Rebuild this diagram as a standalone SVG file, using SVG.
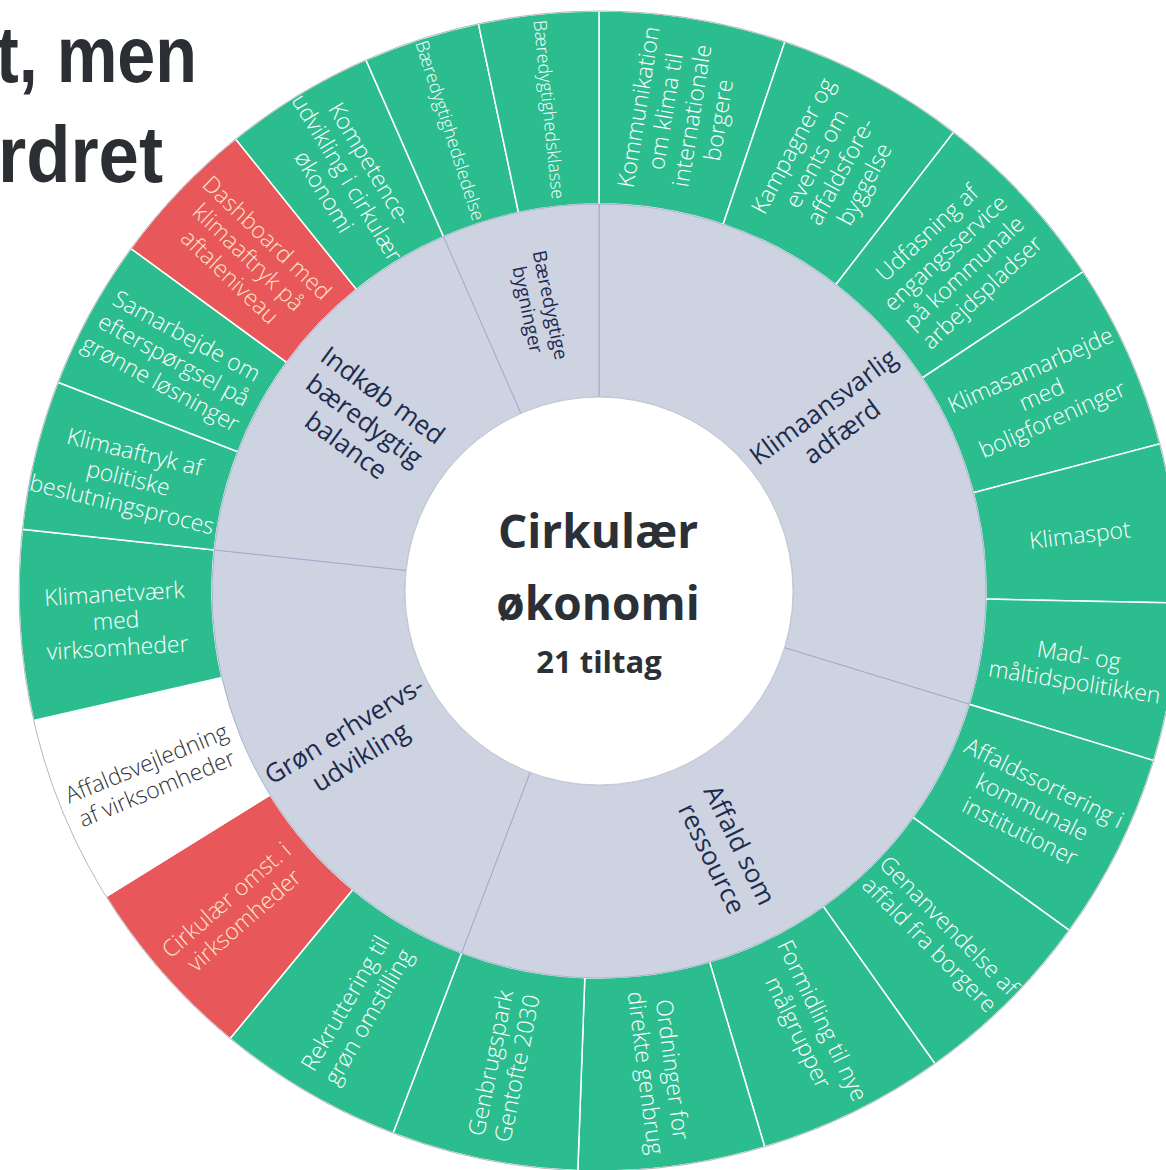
<svg xmlns="http://www.w3.org/2000/svg" width="1166" height="1170" viewBox="0 0 1166 1170">
<style>
.g{fill:#2cbd8f}
.r{fill:#e8575a}
.w{fill:#ffffff}
.seg{stroke:#ffffff;stroke-width:1.5}
.mid{fill:#ced3e2;stroke:#98a4c6;stroke-width:0.8}
.lbl{font-family:"Open Sans","Liberation Sans",sans-serif;font-weight:300;font-size:23px;fill:#ffffff;text-anchor:middle;dominant-baseline:central}
.lr{fill:#fde4c6}
.lw{fill:#333333}
.sm{font-size:18px}
.ml{font-family:"Open Sans","Liberation Sans",sans-serif;font-weight:400;font-size:26px;fill:#1d2c4e;text-anchor:middle;dominant-baseline:central}
.ctr{font-family:"Open Sans","Liberation Sans",sans-serif;font-weight:700;fill:#2b2f36;text-anchor:middle}
.title{font-family:"Liberation Sans Narrow","Liberation Sans",sans-serif;font-weight:700;font-size:80px;fill:#2b2e33}
</style>
<rect width="1166" height="1170" fill="#ffffff"/>
<g id="title">
<text class="title" x="-4" y="82" textLength="201" lengthAdjust="spacingAndGlyphs">t, men</text>
<text class="title" x="-2" y="182" textLength="165" lengthAdjust="spacingAndGlyphs">rdret</text>
</g>
<g id="outer-ring">
<g id="n1"><path class="seg g" d="M599,11 A580,580 0 0 1 784.9,41.6 L723.1,224.4 A387,387 0 0 0 599,204 Z"/>
<text class="lbl" transform="translate(677.6,113.4) rotate(-80.65)"><tspan x="0" y="-40.5">Kommunikation</tspan><tspan x="0" y="-13.5">om klima til</tspan><tspan x="0" y="13.5">internationale</tspan><tspan x="0" y="40.5">borgere</tspan></text></g>
<g id="n2"><path class="seg g" d="M784.9,41.6 A580,580 0 0 1 953.7,132.1 L835.7,284.8 A387,387 0 0 0 723.1,224.4 Z"/>
<text class="lbl" transform="translate(827.7,164.5) rotate(-61.8)"><tspan x="0" y="-40.5">Kampagner og</tspan><tspan x="0" y="-13.5">events om</tspan><tspan x="0" y="13.5">affaldsfore-</tspan><tspan x="0" y="40.5">byggelse</tspan></text></g>
<g id="n3"><path class="seg g" d="M953.7,132.1 A580,580 0 0 1 1083.2,271.7 L922.1,378 A387,387 0 0 0 835.7,284.8 Z"/>
<text class="lbl" transform="translate(953.9,261.9) rotate(-42.85)"><tspan x="0" y="-40.5">Udfasning af</tspan><tspan x="0" y="-13.5">engangsservice</tspan><tspan x="0" y="13.5">på kommunale</tspan><tspan x="0" y="40.5">arbejdspladser</tspan></text></g>
<g id="n4"><path class="seg g" d="M1083.2,271.7 A580,580 0 0 1 1160,443.8 L973.3,492.8 A387,387 0 0 0 922.1,378 Z"/>
<text class="lbl" transform="translate(1041,393.8) rotate(-24.05)"><tspan x="0" y="-27">Klimasamarbejde</tspan><tspan x="0" y="0">med</tspan><tspan x="0" y="27">boligforeninger</tspan></text></g>
<g id="n5"><path class="seg g" d="M1160,443.8 A580,580 0 0 1 1178.9,603.1 L985.9,599.1 A387,387 0 0 0 973.3,492.8 Z"/>
<text class="lbl" transform="translate(1079.7,534.1) rotate(-6.75)"><tspan x="0" y="0">Klimaspot</tspan></text></g>
<g id="n6"><path class="seg g" d="M1178.9,603.1 A580,580 0 0 1 1153.7,760.6 L969.1,704.2 A387,387 0 0 0 985.9,599.1 Z"/>
<text class="lbl" transform="translate(1076.9,667.6) rotate(9.1)"><tspan x="0" y="-13.5">Mad- og</tspan><tspan x="0" y="13.5">måltidspolitikken</tspan></text></g>
<g id="n7"><path class="seg g" d="M1153.7,760.6 A580,580 0 0 1 1069.4,930.3 L912.9,817.4 A387,387 0 0 0 969.1,704.2 Z"/>
<text class="lbl" transform="translate(1032.5,806.2) rotate(26.4)"><tspan x="0" y="-27">Affaldssortering i</tspan><tspan x="0" y="0">kommunale</tspan><tspan x="0" y="27">institutioner</tspan></text></g>
<g id="n8"><path class="seg g" d="M1069.4,930.3 A580,580 0 0 1 935,1063.8 L823.2,906.4 A387,387 0 0 0 912.9,817.4 Z"/>
<text class="lbl" transform="translate(940,934.4) rotate(45.2)"><tspan x="0" y="-13.5">Genanvendelse af</tspan><tspan x="0" y="13.5">affald fra borgere</tspan></text></g>
<g id="n9"><path class="seg g" d="M935,1063.8 A580,580 0 0 1 764.7,1146.8 L709.6,961.9 A387,387 0 0 0 823.2,906.4 Z"/>
<text class="lbl" transform="translate(811.2,1026) rotate(64)"><tspan x="0" y="-13.5">Formidling til nye</tspan><tspan x="0" y="13.5">målgrupper</tspan></text></g>
<g id="n10"><path class="seg g" d="M764.7,1146.8 A580,580 0 0 1 577.8,1170.6 L584.8,977.7 A387,387 0 0 0 709.6,961.9 Z"/>
<text class="lbl" transform="translate(660.1,1071.1) rotate(82.75)"><tspan x="0" y="-13.5">Ordninger for</tspan><tspan x="0" y="13.5">direkte genbrug</tspan></text></g>
<g id="n11"><path class="seg g" d="M577.8,1170.6 A580,580 0 0 1 393,1133.2 L461.6,952.8 A387,387 0 0 0 584.8,977.7 Z"/>
<text class="lbl" transform="translate(502.9,1065.4) rotate(-78.55)"><tspan x="0" y="-13.5">Genbrugspark</tspan><tspan x="0" y="13.5">Gentofte 2030</tspan></text></g>
<g id="n12"><path class="seg g" d="M393,1133.2 A580,580 0 0 1 230.1,1038.5 L352.8,889.6 A387,387 0 0 0 461.6,952.8 Z"/>
<text class="lbl" transform="translate(355.9,1009.5) rotate(-59.85)"><tspan x="0" y="-13.5">Rekruttering til</tspan><tspan x="0" y="13.5">grøn omstilling</tspan></text></g>
<g id="n13"><path class="seg r" d="M230.1,1038.5 A580,580 0 0 1 106,896.7 L270,794.9 A387,387 0 0 0 352.8,889.6 Z"/>
<text class="lbl lr" transform="translate(234.5,909.4) rotate(-41.15)"><tspan x="0" y="-13.5">Cirkulær omst. i</tspan><tspan x="0" y="13.5">virksomheder</tspan></text></g>
<g id="n14"><path class="seg w" d="M106,896.7 A580,580 0 0 1 33.6,720.5 L221.8,677.4 A387,387 0 0 0 270,794.9 Z"/>
<text class="lbl lw" transform="translate(151.3,775) rotate(-22.35)"><tspan x="0" y="-13.5">Affaldsvejledning</tspan><tspan x="0" y="13.5">af virksomheder</tspan></text></g>
<g id="n15"><path class="seg g" d="M33.6,720.5 A580,580 0 0 1 22.3,529.3 L214.2,549.9 A387,387 0 0 0 221.8,677.4 Z"/>
<text class="lbl" transform="translate(115.9,619.7) rotate(-3.4)"><tspan x="0" y="-27">Klimanetværk</tspan><tspan x="0" y="0">med</tspan><tspan x="0" y="27">virksomheder</tspan></text></g>
<g id="n16"><path class="seg g" d="M22.3,529.3 A580,580 0 0 1 57.9,382.2 L237.9,451.7 A387,387 0 0 0 214.2,549.9 Z"/>
<text class="lbl" transform="translate(128.6,477.2) rotate(13.6)"><tspan x="0" y="-27">Klimaaftryk af</tspan><tspan x="0" y="0">politiske</tspan><tspan x="0" y="27">beslutningsproces</tspan></text></g>
<g id="n17"><path class="seg g" d="M57.9,382.2 A580,580 0 0 1 130.9,248.5 L286.7,362.4 A387,387 0 0 0 237.9,451.7 Z"/>
<text class="lbl" transform="translate(174.2,358.9) rotate(28.65)"><tspan x="0" y="-27">Samarbejde om</tspan><tspan x="0" y="0">efterspørgsel på</tspan><tspan x="0" y="27">grønne løsninger</tspan></text></g>
<g id="n18"><path class="seg r" d="M130.9,248.5 A580,580 0 0 1 235.6,139 L356.5,289.4 A387,387 0 0 0 286.7,362.4 Z"/>
<text class="lbl lr" transform="translate(249.1,256.6) rotate(43.7)"><tspan x="0" y="-27">Dashboard med</tspan><tspan x="0" y="0">klimaaftryk på</tspan><tspan x="0" y="27">aftaleniveau</tspan></text></g>
<g id="n19"><path class="seg g" d="M235.6,139 A580,580 0 0 1 365.9,59.9 L443.5,236.6 A387,387 0 0 0 356.5,289.4 Z"/>
<text class="lbl" transform="translate(347.9,177.2) rotate(58.75)"><tspan x="0" y="-27">Kompetence-</tspan><tspan x="0" y="0">udvikling i cirkulær</tspan><tspan x="0" y="27">økonomi</tspan></text></g>
<g id="n20"><path class="seg g" d="M365.9,59.9 A580,580 0 0 1 478.4,23.7 L518.5,212.5 A387,387 0 0 0 443.5,236.6 Z"/>
<text class="lbl sm" transform="translate(450.6,130.3) rotate(72.15)"><tspan x="0" y="0">Bæredygtighedsledelse</tspan></text></g>
<g id="n21"><path class="seg g" d="M478.4,23.7 A580,580 0 0 1 599,11 L599,204 A387,387 0 0 0 518.5,212.5 Z"/>
<text class="lbl sm" transform="translate(549.7,109.5) rotate(84.15)"><tspan x="0" y="0">Bæredygtighedsklasse</tspan></text></g>
</g>
<circle cx="599" cy="591" r="580" fill="none" stroke="#b4b8c0" stroke-width="1"/>
<g id="middle-ring">
<g id="m1"><path class="mid" d="M599,204 A387,387 0 0 1 969.1,704.2 L784.5,647.7 A194,194 0 0 0 599,397 Z"/>
<text class="ml" transform="translate(832.1,418.5) rotate(-36.5)"><tspan x="0" y="-15.5">Klimaansvarlig</tspan><tspan x="0" y="15.5">adfærd</tspan></text></g>
<g id="m2"><path class="mid" d="M969.1,704.2 A387,387 0 0 1 461.6,952.8 L530.1,772.4 A194,194 0 0 0 784.5,647.7 Z"/>
<text class="ml" transform="translate(726.6,851.4) rotate(63.9)"><tspan x="0" y="-15.5">Affald som</tspan><tspan x="0" y="15.5">ressource</tspan></text></g>
<g id="m3"><path class="mid" d="M461.6,952.8 A387,387 0 0 1 214.2,549.9 L406.1,570.4 A194,194 0 0 0 530.1,772.4 Z"/>
<text class="ml" transform="translate(351.8,742.7) rotate(-31.55)"><tspan x="0" y="-15.5">Grøn erhvervs-</tspan><tspan x="0" y="15.5">udvikling</tspan></text></g>
<g id="m4"><path class="mid" d="M214.2,549.9 A387,387 0 0 1 443.5,236.6 L521,413.4 A194,194 0 0 0 406.1,570.4 Z"/>
<text class="ml" transform="translate(365,419.7) rotate(36.2)"><tspan x="0" y="-31">Indkøb med</tspan><tspan x="0" y="0">bæredygtig</tspan><tspan x="0" y="31">balance</tspan></text></g>
<g id="m5"><path class="mid" d="M443.5,236.6 A387,387 0 0 1 599,204 L599,397 A194,194 0 0 0 521,413.4 Z"/>
<text class="ml" style="font-size:19px" transform="translate(539.4,307.2) rotate(78.15)"><tspan x="0" y="-11.5">Bæredygtige</tspan><tspan x="0" y="11.5">bygninger</tspan></text></g>
</g>
<g id="center">
<circle cx="599" cy="591" r="194" fill="#ffffff" stroke="#c5c9d4" stroke-width="1"/>
<text class="ctr" x="598" y="548" font-size="46">Cirkulær</text>
<text class="ctr" x="598" y="620" font-size="46">økonomi</text>
<text class="ctr" x="599" y="673" font-size="31">21 tiltag</text>
</g>
</svg>
